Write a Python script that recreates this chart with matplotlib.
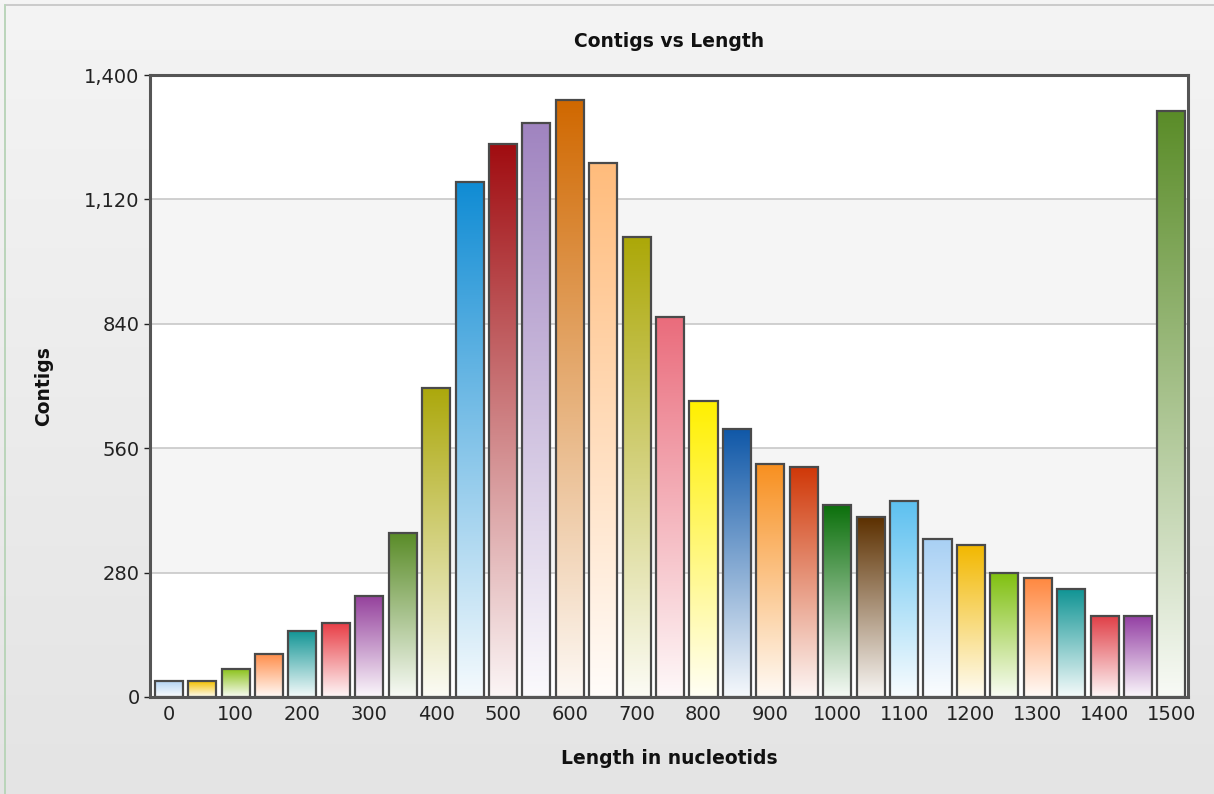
import matplotlib
matplotlib.use("Agg")
import matplotlib.pyplot as plt
import numpy as np
from matplotlib.colors import LinearSegmentedColormap, to_rgb
from matplotlib.patches import Rectangle
from matplotlib.ticker import FuncFormatter

# contig counts per length bin (nucleotides)
lengths = list(range(0, 1501, 50))
contigs = [36, 36, 63, 97, 149, 167, 228, 368, 695, 1159, 1245, 1292, 1344, 1202,
           1035, 855, 666, 603, 524, 517, 432, 404, 442, 356, 342, 279, 267, 242,
           182, 182, 1319]
bar_colors = ["#b4d4f4", "#f4c000", "#8cc21c", "#ff8c48", "#109494", "#e83c44",
              "#94409c", "#5a8c28", "#aca80c", "#108cd4", "#a00c10", "#a084c0",
              "#d06800", "#ffbc7c", "#aca808", "#ea6c7c", "#fff000", "#1058a8",
              "#f89020", "#d03808", "#0c700c", "#5c3000", "#5cc0f0", "#a8d0f4",
              "#f2b800", "#80c010", "#ff8840", "#109494", "#e04048", "#9440a4",
              "#5a8c28"]
y_ticks = [0, 280, 560, 840, 1120, 1400]
x_labels = list(range(0, 1501, 100))

fig = plt.figure(figsize=(12.14, 7.94), dpi=100)

# light grey background fading downwards
bg = fig.add_axes([0, 0, 1, 1], zorder=-10)
bg_cmap = LinearSegmentedColormap.from_list("bg", ["#e4e4e4", "#f4f4f4"])
bg.imshow(np.linspace(0, 1, 256).reshape(-1, 1), cmap=bg_cmap, origin="lower",
          aspect="auto", extent=[0, 1, 0, 1])
bg.set_axis_off()
fig.add_artist(Rectangle((0.004, -0.01), 1.0, 1.004, transform=fig.transFigure,
                         fill=False, edgecolor="#c4c4c4", linewidth=1.2))
fig.add_artist(plt.Line2D([0.0045, 0.0045], [0, 0.994], transform=fig.transFigure,
                          color="#b8d8b8", linewidth=1.2))

ax = fig.add_axes([0.1236, 0.1222, 0.8551, 0.7833])
ax.set_facecolor("white")
for lo, hi in [(280, 560), (840, 1120)]:
    ax.axhspan(lo, hi, color="#f5f5f5", zorder=0, linewidth=0)
for t in y_ticks[1:-1]:
    ax.axhline(t, color="#c8c8c8", linewidth=1.2, zorder=1)

bars = ax.bar(lengths, contigs, width=42, color="none", edgecolor="#4a4a4a",
              linewidth=1.6, zorder=4)
grad = np.linspace(0, 1, 256).reshape(-1, 1)
for patch, col in zip(bars, bar_colors):
    rgb = np.array(to_rgb(col))
    low = 0.96 * np.ones(3) + 0.04 * rgb
    cmap = LinearSegmentedColormap.from_list("g", [low, rgb])
    x0, y0 = patch.get_x(), patch.get_y()
    w, h = patch.get_width(), patch.get_height()
    im = ax.imshow(grad, extent=[x0, x0 + w, y0, y0 + h], origin="lower",
                   cmap=cmap, aspect="auto", zorder=3)
    im.set_clip_path(patch)

ax.set_xlim(-28, 1525)
ax.set_ylim(0, 1400)
ax.set_xticks(x_labels)
ax.set_yticks(y_ticks)
ax.yaxis.set_major_formatter(FuncFormatter(lambda v, p: f"{int(v):,}"))
ax.tick_params(axis="both", labelsize=14, colors="#222222", length=4, width=1,
               direction="out")
ax.tick_params(axis="x", length=0, pad=6)
for s in ax.spines.values():
    s.set_color("#555555")
    s.set_linewidth(2.2)
    s.set_zorder(5)

ax.set_title("Contigs vs Length", fontsize=13.5, fontweight="bold", color="#111111", pad=20)
ax.set_xlabel("Length in nucleotids", fontsize=13.5, fontweight="bold", color="#111111", labelpad=18)
ax.set_ylabel("Contigs", fontsize=13.5, fontweight="bold", color="#111111", labelpad=22)

fig.savefig("out.png", dpi=100)
